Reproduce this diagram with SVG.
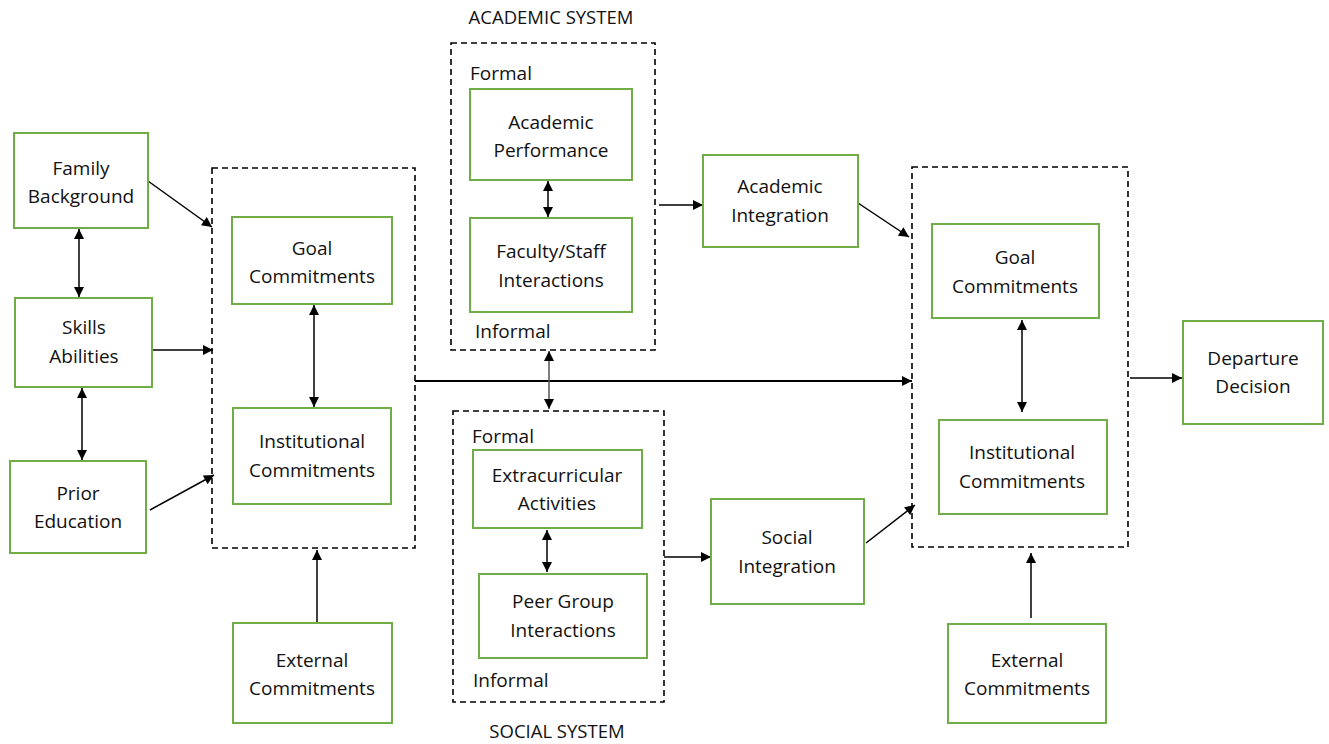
<svg xmlns="http://www.w3.org/2000/svg" width="1329" height="744" viewBox="0 0 1329 744">
<style>
.n{fill:#fff;stroke:#70ad47;stroke-width:2}
.d{fill:none;stroke:#000;stroke-width:1.6;stroke-dasharray:6 4}
text{font-family:"Open Sans","Liberation Sans",sans-serif;font-size:19px;fill:#111}
.c{text-anchor:middle}
.k{fill:none;stroke:#000;stroke-width:1.5}
</style>
<defs>
<marker id="ah" viewBox="0 0 10 10" refX="10" refY="5" markerWidth="11" markerHeight="10" markerUnits="userSpaceOnUse" orient="auto-start-reverse">
<path d="M0,0 L10,5 L0,10 z" fill="#000"/>
</marker>
</defs>
<rect width="1329" height="744" fill="#fff"/>

<g id="containers">
<rect id="box-left" class="d" x="212" y="168" width="203" height="380"/>
<rect id="box-academic" class="d" x="451" y="43" width="204" height="307"/>
<rect id="box-social" class="d" x="453" y="411" width="211" height="291"/>
<rect id="box-right" class="d" x="912" y="167" width="216" height="380"/>
<text class="c" x="551" y="24" style="font-size:18.5px">ACADEMIC SYSTEM</text>
<text class="c" x="557" y="738" style="font-size:18.5px">SOCIAL SYSTEM</text>
<text x="470" y="80">Formal</text>
<text x="475" y="338">Informal</text>
<text x="472" y="443">Formal</text>
<text x="473" y="687">Informal</text>
</g>

<g id="connectors">
<line class="k" x1="79" y1="229" x2="79" y2="297" marker-start="url(#ah)" marker-end="url(#ah)"/>
<line class="k" x1="82" y1="388" x2="82" y2="460" marker-start="url(#ah)" marker-end="url(#ah)"/>
<line class="k" x1="148" y1="181" x2="212" y2="227" marker-end="url(#ah)"/>
<line class="k" x1="153" y1="350" x2="213" y2="350" marker-end="url(#ah)"/>
<line class="k" x1="150" y1="510" x2="214" y2="475" marker-end="url(#ah)"/>
<line class="k" x1="314" y1="305" x2="314" y2="407" marker-start="url(#ah)" marker-end="url(#ah)"/>
<line class="k" x1="317" y1="623" x2="317" y2="550" marker-end="url(#ah)"/>
<line class="k" x1="415" y1="381" x2="912" y2="381" style="stroke-width:2" marker-end="url(#ah)"/>
<line class="k" x1="548" y1="181" x2="548" y2="217" marker-start="url(#ah)" marker-end="url(#ah)"/>
<line class="k" x1="549" y1="351" x2="549" y2="409" style="stroke:#555" marker-start="url(#ah)" marker-end="url(#ah)"/>
<line class="k" x1="547" y1="530" x2="547" y2="572" marker-start="url(#ah)" marker-end="url(#ah)"/>
<line class="k" x1="659" y1="205" x2="703" y2="205" marker-end="url(#ah)"/>
<line class="k" x1="664" y1="557" x2="711" y2="557" marker-end="url(#ah)"/>
<line class="k" x1="858" y1="203" x2="909" y2="237" marker-end="url(#ah)"/>
<line class="k" x1="866" y1="543" x2="915" y2="505" marker-end="url(#ah)"/>
<line class="k" x1="1022" y1="320" x2="1022" y2="412" marker-start="url(#ah)" marker-end="url(#ah)"/>
<line class="k" x1="1031" y1="618" x2="1031" y2="553" marker-end="url(#ah)"/>
<line class="k" x1="1130" y1="378" x2="1182" y2="378" marker-end="url(#ah)"/>
</g>

<g id="family-background"><rect class="n" x="14" y="133" width="134" height="95"/><text class="c" x="81" y="175">Family</text><text class="c" x="81" y="203">Background</text></g>
<g id="skills-abilities"><rect class="n" x="15" y="298" width="137" height="89"/><text class="c" x="84" y="334">Skills</text><text class="c" x="84" y="363">Abilities</text></g>
<g id="prior-education"><rect class="n" x="10" y="461" width="136" height="92"/><text class="c" x="78" y="500">Prior</text><text class="c" x="78" y="528">Education</text></g>
<g id="goal-commitments-1"><rect class="n" x="232" y="217" width="160" height="87"/><text class="c" x="312" y="255">Goal</text><text class="c" x="312" y="283">Commitments</text></g>
<g id="institutional-commitments-1"><rect class="n" x="233" y="408" width="158" height="96"/><text class="c" x="312" y="448">Institutional</text><text class="c" x="312" y="477">Commitments</text></g>
<g id="external-commitments-1"><rect class="n" x="233" y="623" width="159" height="100"/><text class="c" x="312" y="667">External</text><text class="c" x="312" y="695">Commitments</text></g>
<g id="academic-performance"><rect class="n" x="470" y="89" width="162" height="91"/><text class="c" x="551" y="129">Academic</text><text class="c" x="551" y="157">Performance</text></g>
<g id="faculty-staff"><rect class="n" x="470" y="218" width="162" height="94"/><text class="c" x="551" y="258">Faculty/Staff</text><text class="c" x="551" y="287">Interactions</text></g>
<g id="extracurricular"><rect class="n" x="473" y="450" width="169" height="78"/><text class="c" x="557" y="482">Extracurricular</text><text class="c" x="557" y="510">Activities</text></g>
<g id="peer-group"><rect class="n" x="479" y="574" width="168" height="84"/><text class="c" x="563" y="608">Peer Group</text><text class="c" x="563" y="637">Interactions</text></g>
<g id="academic-integration"><rect class="n" x="703" y="155" width="155" height="92"/><text class="c" x="780" y="193">Academic</text><text class="c" x="780" y="222">Integration</text></g>
<g id="social-integration"><rect class="n" x="711" y="499" width="153" height="105"/><text class="c" x="787" y="544">Social</text><text class="c" x="787" y="573">Integration</text></g>
<g id="goal-commitments-2"><rect class="n" x="932" y="224" width="167" height="94"/><text class="c" x="1015" y="264">Goal</text><text class="c" x="1015" y="293">Commitments</text></g>
<g id="institutional-commitments-2"><rect class="n" x="939" y="420" width="168" height="94"/><text class="c" x="1022" y="459">Institutional</text><text class="c" x="1022" y="488">Commitments</text></g>
<g id="external-commitments-2"><rect class="n" x="948" y="624" width="158" height="99"/><text class="c" x="1027" y="667">External</text><text class="c" x="1027" y="695">Commitments</text></g>
<g id="departure-decision"><rect class="n" x="1183" y="321" width="140" height="103"/><text class="c" x="1253" y="365">Departure</text><text class="c" x="1253" y="393">Decision</text></g>
</svg>
